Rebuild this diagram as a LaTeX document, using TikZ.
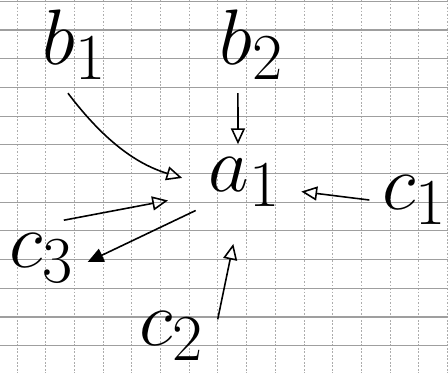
\documentclass[tikz,border=0pt]{standalone}
\usetikzlibrary{arrows.meta}
\begin{document}
\begin{tikzpicture}[
    x=0.02cm, y=-0.02cm,
    letter/.style={font=\Huge, scale=1.8, inner sep=4pt},
    arr/.style={-{Triangle[open, length=9pt, width=8pt]}, line width=0.9pt, line join=round},
    arrfull/.style={-{Triangle[length=9pt, width=8pt]}, line width=0.9pt},
    gridrow/.style={gray!75, line width=0.6pt},
    gridcol/.style={gray!65, line width=0.5pt, dash pattern=on 1pt off 1pt}
  ]
  \useasboundingbox (0,0) rectangle (448,373);

  % squared paper
  \foreach \gx in {0,...,15}
    \draw[gridcol] (17+28.7*\gx,0) -- (17+28.7*\gx,373);
  \foreach \gy in {-1,...,11}
    \draw[gridrow] (0,30+28.7*\gy) -- (448,30+28.7*\gy);

  \node[letter] (b1) at (75,45)   {$b_1$};
  \node[letter] (b2) at (252,45)  {$b_2$};
  \node[letter] (a1) at (245,182) {$a_1$};
  \node[letter] (c1) at (415,200) {$c_1$};
  \node[letter] (c2) at (172,336) {$c_2$};
  \node[letter] (c3) at (42,258)  {$c_3$};

  \draw[arr, shorten >=8pt] ([xshift=-4pt]b1.south) to[bend right=18] (a1.180);
  \draw[arr] ([xshift=-8pt]b2.south) -- ([xshift=-4pt]a1.north);
  \draw[arr, shorten >=4pt] (c1.west) -- (a1.-10);
  \draw[arr, shorten >=14pt] (c2.20) -- (a1.-100);
  \draw[arr, shorten >=16pt] (c3.60) -- (a1.195);
  \draw[arrfull] (a1.210) -- (c3.-5);
\end{tikzpicture}
\end{document}
